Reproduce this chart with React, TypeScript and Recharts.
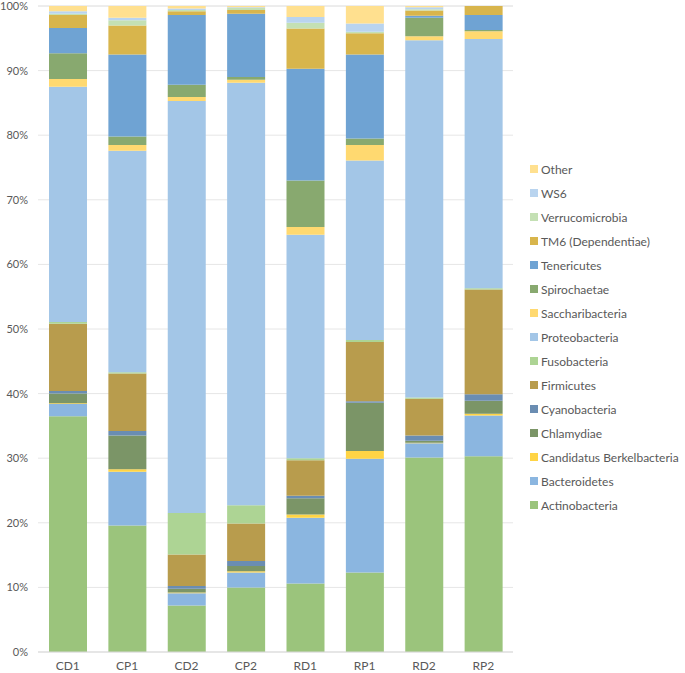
import React from "react";
import { BarChart, Bar, XAxis, YAxis, CartesianGrid } from "recharts";

const samples = ["CD1", "CP1", "CD2", "CP2", "RD1", "RP1", "RD2", "RP2"];

const actinobacteria = [36.5, 19.6, 7.2, 10.0, 10.6, 12.3, 30.1, 30.3];
const bacteroidetes = [1.9, 8.3, 1.9, 2.3, 10.2, 17.6, 2.2, 6.3];
const candidatusBerkelbacteria = [0.1, 0.4, 0.1, 0.2, 0.5, 1.2, 0.1, 0.3];
const chlamydiae = [1.5, 5.2, 0.6, 0.8, 2.5, 7.5, 0.3, 2.0];
const cyanobacteria = [0.4, 0.7, 0.4, 0.8, 0.4, 0.2, 0.8, 1.0];
const firmicutes = [10.4, 8.9, 4.9, 5.8, 5.5, 9.2, 5.7, 16.2];
const fusobacteria = [0.3, 0.2, 6.4, 2.8, 0.3, 0.3, 0.2, 0.2];
const proteobacteria = [36.4, 34.3, 63.8, 65.4, 34.6, 27.8, 55.3, 38.6];
const saccharibacteria = [1.2, 0.9, 0.6, 0.5, 1.2, 2.4, 0.6, 1.2];
const spirochaetae = [4.0, 1.3, 1.9, 0.4, 7.2, 1.0, 2.9, 0.2];
const tenericutes = [3.9, 12.7, 10.8, 9.8, 17.3, 13.0, 0.3, 2.3];
const tm6 = [2.0, 4.5, 0.6, 0.6, 6.2, 3.3, 0.8, 1.4];
const verrucomicrobia = [0.2, 0.8, 0.2, 0.3, 0.9, 0.2, 0.2, 0];
const ws6 = [0.4, 0.4, 0.2, 0.1, 0.9, 1.3, 0.3, 0];
const other = [0.8, 1.8, 0.4, 0.2, 1.7, 2.7, 0.2, 0];

const yTicks = [0, 10, 20, 30, 40, 50, 60, 70, 80, 90, 100];

const series = [
  { key: "Actinobacteria", values: actinobacteria, color: "#9BC47C" },
  { key: "Bacteroidetes", values: bacteroidetes, color: "#8BB6E0" },
  { key: "Candidatus Berkelbacteria", values: candidatusBerkelbacteria, color: "#FFD445" },
  { key: "Chlamydiae", values: chlamydiae, color: "#7B9567" },
  { key: "Cyanobacteria", values: cyanobacteria, color: "#6A8DB2" },
  { key: "Firmicutes", values: firmicutes, color: "#B89C4D" },
  { key: "Fusobacteria", values: fusobacteria, color: "#ADD494" },
  { key: "Proteobacteria", values: proteobacteria, color: "#A3C6E7" },
  { key: "Saccharibacteria", values: saccharibacteria, color: "#FFD970" },
  { key: "Spirochaetae", values: spirochaetae, color: "#88A96F" },
  { key: "Tenericutes", values: tenericutes, color: "#6FA3D3" },
  { key: "TM6 (Dependentiae)", values: tm6, color: "#D8B54C" },
  { key: "Verrucomicrobia", values: verrucomicrobia, color: "#C4E0B4" },
  { key: "WS6", values: ws6, color: "#B9D4EF" },
  { key: "Other", values: other, color: "#FFE08F" },
];

const data = samples.map((s, i) => {
  const row: Record<string, any> = { name: s };
  series.forEach((se) => {
    row[se.key] = se.values[i];
  });
  return row;
});

const FONT = "Lato, 'Open Sans', sans-serif";

export default function App() {
  return (
    <div style={{ position: "absolute", left: 0, top: 0, width: 685, height: 673, background: "#fff" }}>
      <BarChart
        width={685}
        height={673}
        data={data}
        margin={{ top: 6, right: 172, bottom: 0, left: 0 }}
        barSize={38}
      >
        <CartesianGrid vertical={false} stroke="#e6e6e6" />
        <XAxis
          dataKey="name"
          height={21}
          tickLine={false}
          axisLine={{ stroke: "#d9d9d9" }}
          tickSize={0}
          tickMargin={9}
          tick={{ fill: "#595959", fontSize: 12, fontFamily: FONT }}
        />
        <YAxis
          width={38}
          domain={[0, 100]}
          ticks={yTicks}
          interval={0}
          tickFormatter={(v) => `${v}%`}
          tickLine={false}
          axisLine={false}
          tickSize={0}
          tickMargin={10}
          tick={{ fill: "#595959", fontSize: 11, fontFamily: FONT }}
        />
        {series.map((se) => (
          <Bar
            key={se.key}
            dataKey={se.key}
            stackId="a"
            fill={se.color}
            isAnimationActive={false}
          />
        ))}
      </BarChart>
      <div
        style={{
          position: "absolute",
          left: 530,
          top: 157,
          width: 155,
          fontFamily: FONT,
          fontSize: 12,
          color: "#595959",
        }}
      >
        {[...series].reverse().map((se) => (
          <div
            key={se.key}
            style={{ display: "flex", alignItems: "center", height: 24, whiteSpace: "nowrap" }}
          >
            <span
              style={{
                display: "inline-block",
                width: 8,
                height: 8,
                background: se.color,
                marginRight: 3,
              }}
            />
            <span>{se.key}</span>
          </div>
        ))}
      </div>
    </div>
  );
}
